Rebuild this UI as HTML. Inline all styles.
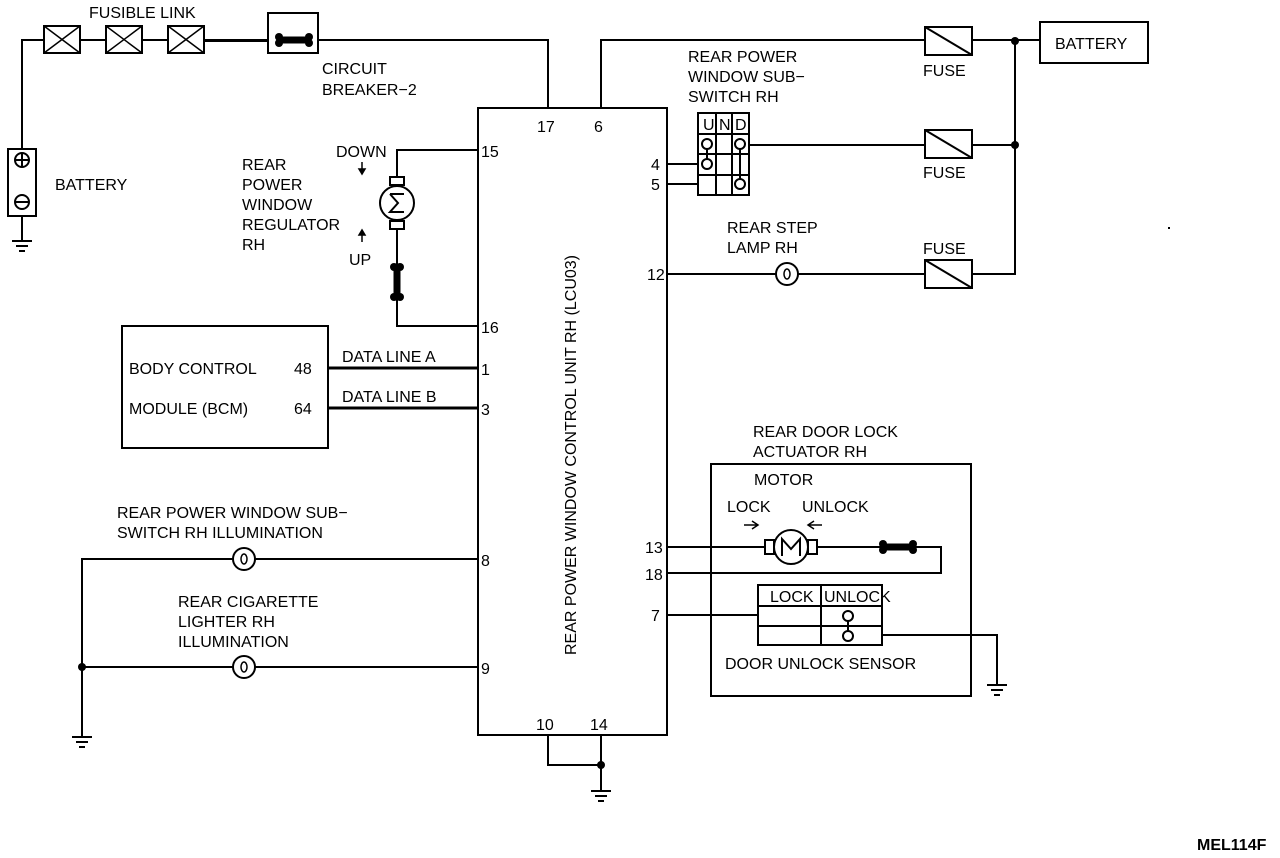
<!DOCTYPE html>
<html><head><style>
body{margin:0;background:#fff}
svg{display:block}
text{font-family:"Liberation Sans",sans-serif;font-size:16px;fill:#000}
</style></head><body>
<svg width="1280" height="858" viewBox="0 0 1280 858" xmlns="http://www.w3.org/2000/svg">
<defs>
<g id="fl"><rect x="0" y="0" width="36" height="27" fill="#fff" stroke="#000" stroke-width="2"/><path d="M0 0L36 27M36 0L0 27" stroke="#000" stroke-width="1.5"/></g>
<g id="fuse"><rect x="0" y="0" width="47" height="28" fill="#fff" stroke="#000" stroke-width="2"/><path d="M0 0L47 28" stroke="#000" stroke-width="2"/></g>
<g id="lamp"><circle r="11" fill="#fff" stroke="#000" stroke-width="2"/><ellipse rx="3" ry="5" fill="none" stroke="#000" stroke-width="1.5"/></g>
<g id="gnd"><path d="M-10 0H10M-6 5H6M-3 10H3" stroke="#000" stroke-width="2"/></g>
<g id="bone"><path d="M0 0H30" stroke="#000" stroke-width="7"/><circle cx="0" cy="-3" r="4"/><circle cx="0" cy="3" r="4"/><circle cx="30" cy="-3" r="4"/><circle cx="30" cy="3" r="4"/></g>
</defs>
<g fill="none" stroke="#000" stroke-width="2">
<path d="M22 150V40H548V108"/>
<path d="M22 216V240"/>
<rect x="8" y="149" width="28" height="67" fill="#fff"/>
<circle cx="22" cy="160" r="7"/><path d="M16 160H28M22 154V166"/>
<circle cx="22" cy="202" r="7"/><path d="M16 202H28"/>
<rect x="268" y="13" width="50" height="40" fill="#fff"/>
<rect x="478" y="108" width="189" height="627"/>
<path d="M601 108V40H1040"/>
<path d="M1015 41V274H972"/>
<path d="M749 145H1015"/>
<path d="M667 274H925"/>
<path d="M667 164H698M667 184H698"/>
<rect x="1040" y="22" width="108" height="41"/>
<path d="M478 150H397V180M397 226V326H478"/>
<rect x="122" y="326" width="206" height="122"/>
<path d="M328 368H478M328 408H478" stroke-width="3"/>
<path d="M478 559H82V736M82 667H478"/>
<path d="M548 735V765H601M601 735V790"/>
<rect x="711" y="464" width="260" height="232"/>
<path d="M667 547H941V573H667M667 615H758M882 635H997V684"/>
<rect x="758" y="585" width="124" height="60" fill="#fff"/>
<path d="M758 606H882M758 626H882M821 585V645"/>
<circle cx="848" cy="616" r="5"/><circle cx="848" cy="636" r="5"/><path d="M848 621V631"/>
</g>
<use href="#fl" x="44" y="26"/><use href="#fl" x="106" y="26"/><use href="#fl" x="168" y="26"/>
<rect x="204" y="39" width="64" height="3" fill="#000"/>
<use href="#bone" x="279" y="40"/>
<use href="#fuse" x="925" y="27"/><use href="#fuse" x="925" y="130"/><use href="#fuse" x="925" y="260"/>
<circle cx="1015" cy="41" r="4"/><circle cx="1015" cy="145" r="4"/>
<g fill="none" stroke="#000" stroke-width="2">
<rect x="698" y="113" width="51" height="82" fill="#fff"/>
<path d="M698 134H749M698 154H749M698 175H749M716 113V195M732 113V195"/>
<circle cx="707" cy="144" r="5"/><circle cx="707" cy="164" r="5"/><path d="M707 149V159"/>
<circle cx="740" cy="144" r="5"/><circle cx="740" cy="184" r="5"/><path d="M740 149V179"/>
</g>
<text x="703" y="130" font-size="13">U</text><text x="719" y="130" font-size="13">N</text><text x="735" y="130" font-size="13">D</text>
<use href="#lamp" x="787" y="274"/><use href="#lamp" x="244" y="559"/><use href="#lamp" x="244" y="667"/>
<circle cx="82" cy="667" r="4"/><circle cx="601" cy="765" r="4"/>
<use href="#gnd" x="22" y="241"/><use href="#gnd" x="82" y="737"/><use href="#gnd" x="601" y="791"/><use href="#gnd" x="997" y="685"/>
<g fill="#fff" stroke="#000" stroke-width="2">
<rect x="390" y="177" width="14" height="8"/><rect x="390" y="221" width="14" height="8"/>
<circle cx="397" cy="203" r="17"/>
</g>
<path d="M390 194h14M390 194l8 9-8 9h14" fill="none" stroke="#000" stroke-width="2"/>
<use href="#bone" transform="translate(397 267) rotate(90)"/>
<g fill="#fff" stroke="#000" stroke-width="2">
<rect x="765" y="540" width="9" height="14"/><rect x="808" y="540" width="9" height="14"/>
<circle cx="791" cy="547" r="17"/>
</g>
<path d="M782 556V539l9 10 9-10v17" fill="none" stroke="#000" stroke-width="2"/>
<use href="#bone" x="883" y="547"/>
<path d="M744 525h14M752 521l6 4-6 4M808 525h14M814 521l-6 4 6 4" fill="none" stroke="#000" stroke-width="1.5"/>
<path d="M362 162v12M362 174l-3-5h6z M362 230v12M362 230l-3 5h6z" stroke="#000" stroke-width="1.5" fill="#000"/>
<text x="89" y="18">FUSIBLE LINK</text>
<text x="322" y="74">CIRCUIT</text><text x="322" y="95">BREAKER−2</text>
<text x="55" y="190">BATTERY</text>
<text x="336" y="157">DOWN</text>
<text x="242" y="170">REAR</text><text x="242" y="190">POWER</text><text x="242" y="210">WINDOW</text><text x="242" y="230">REGULATOR</text><text x="242" y="250">RH</text>
<text x="349" y="265">UP</text>
<text x="537" y="132">17</text><text x="594" y="132">6</text>
<text x="481" y="157">15</text><text x="481" y="333">16</text>
<text x="481" y="375">1</text><text x="481" y="415">3</text>
<text x="481" y="566">8</text><text x="481" y="674">9</text>
<text x="536" y="730">10</text><text x="590" y="730">14</text>
<text x="651" y="170">4</text><text x="651" y="190">5</text><text x="647" y="280">12</text>
<text x="645" y="553">13</text><text x="645" y="580">18</text><text x="651" y="621">7</text>
<text x="129" y="374">BODY CONTROL</text><text x="294" y="374">48</text>
<text x="129" y="414">MODULE (BCM)</text><text x="294" y="414">64</text>
<text x="342" y="362">DATA LINE A</text><text x="342" y="402">DATA LINE B</text>
<text x="117" y="518">REAR POWER WINDOW SUB−</text><text x="117" y="538">SWITCH RH ILLUMINATION</text>
<text x="178" y="607">REAR CIGARETTE</text><text x="178" y="627">LIGHTER RH</text><text x="178" y="647">ILLUMINATION</text>
<text x="0" y="0" transform="translate(576 655) rotate(-90)">REAR POWER WINDOW CONTROL UNIT RH (LCU03)</text>
<text x="688" y="62">REAR POWER</text><text x="688" y="82">WINDOW SUB−</text><text x="688" y="102">SWITCH RH</text>
<text x="923" y="76">FUSE</text><text x="923" y="178">FUSE</text><text x="923" y="254">FUSE</text>
<text x="1055" y="49">BATTERY</text>
<text x="727" y="233">REAR STEP</text><text x="727" y="253">LAMP RH</text>
<text x="753" y="437">REAR DOOR LOCK</text><text x="753" y="457">ACTUATOR RH</text>
<text x="754" y="485">MOTOR</text>
<text x="727" y="512">LOCK</text><text x="802" y="512">UNLOCK</text>
<text x="770" y="602" font-size="13">LOCK</text><text x="824" y="602" font-size="13">UNLOCK</text>
<text x="725" y="669">DOOR UNLOCK SENSOR</text>
<text x="1197" y="850" font-size="14" font-weight="bold">MEL114F</text>
<rect x="1168" y="227" width="2" height="2" fill="#000"/>
</svg>
</body></html>
